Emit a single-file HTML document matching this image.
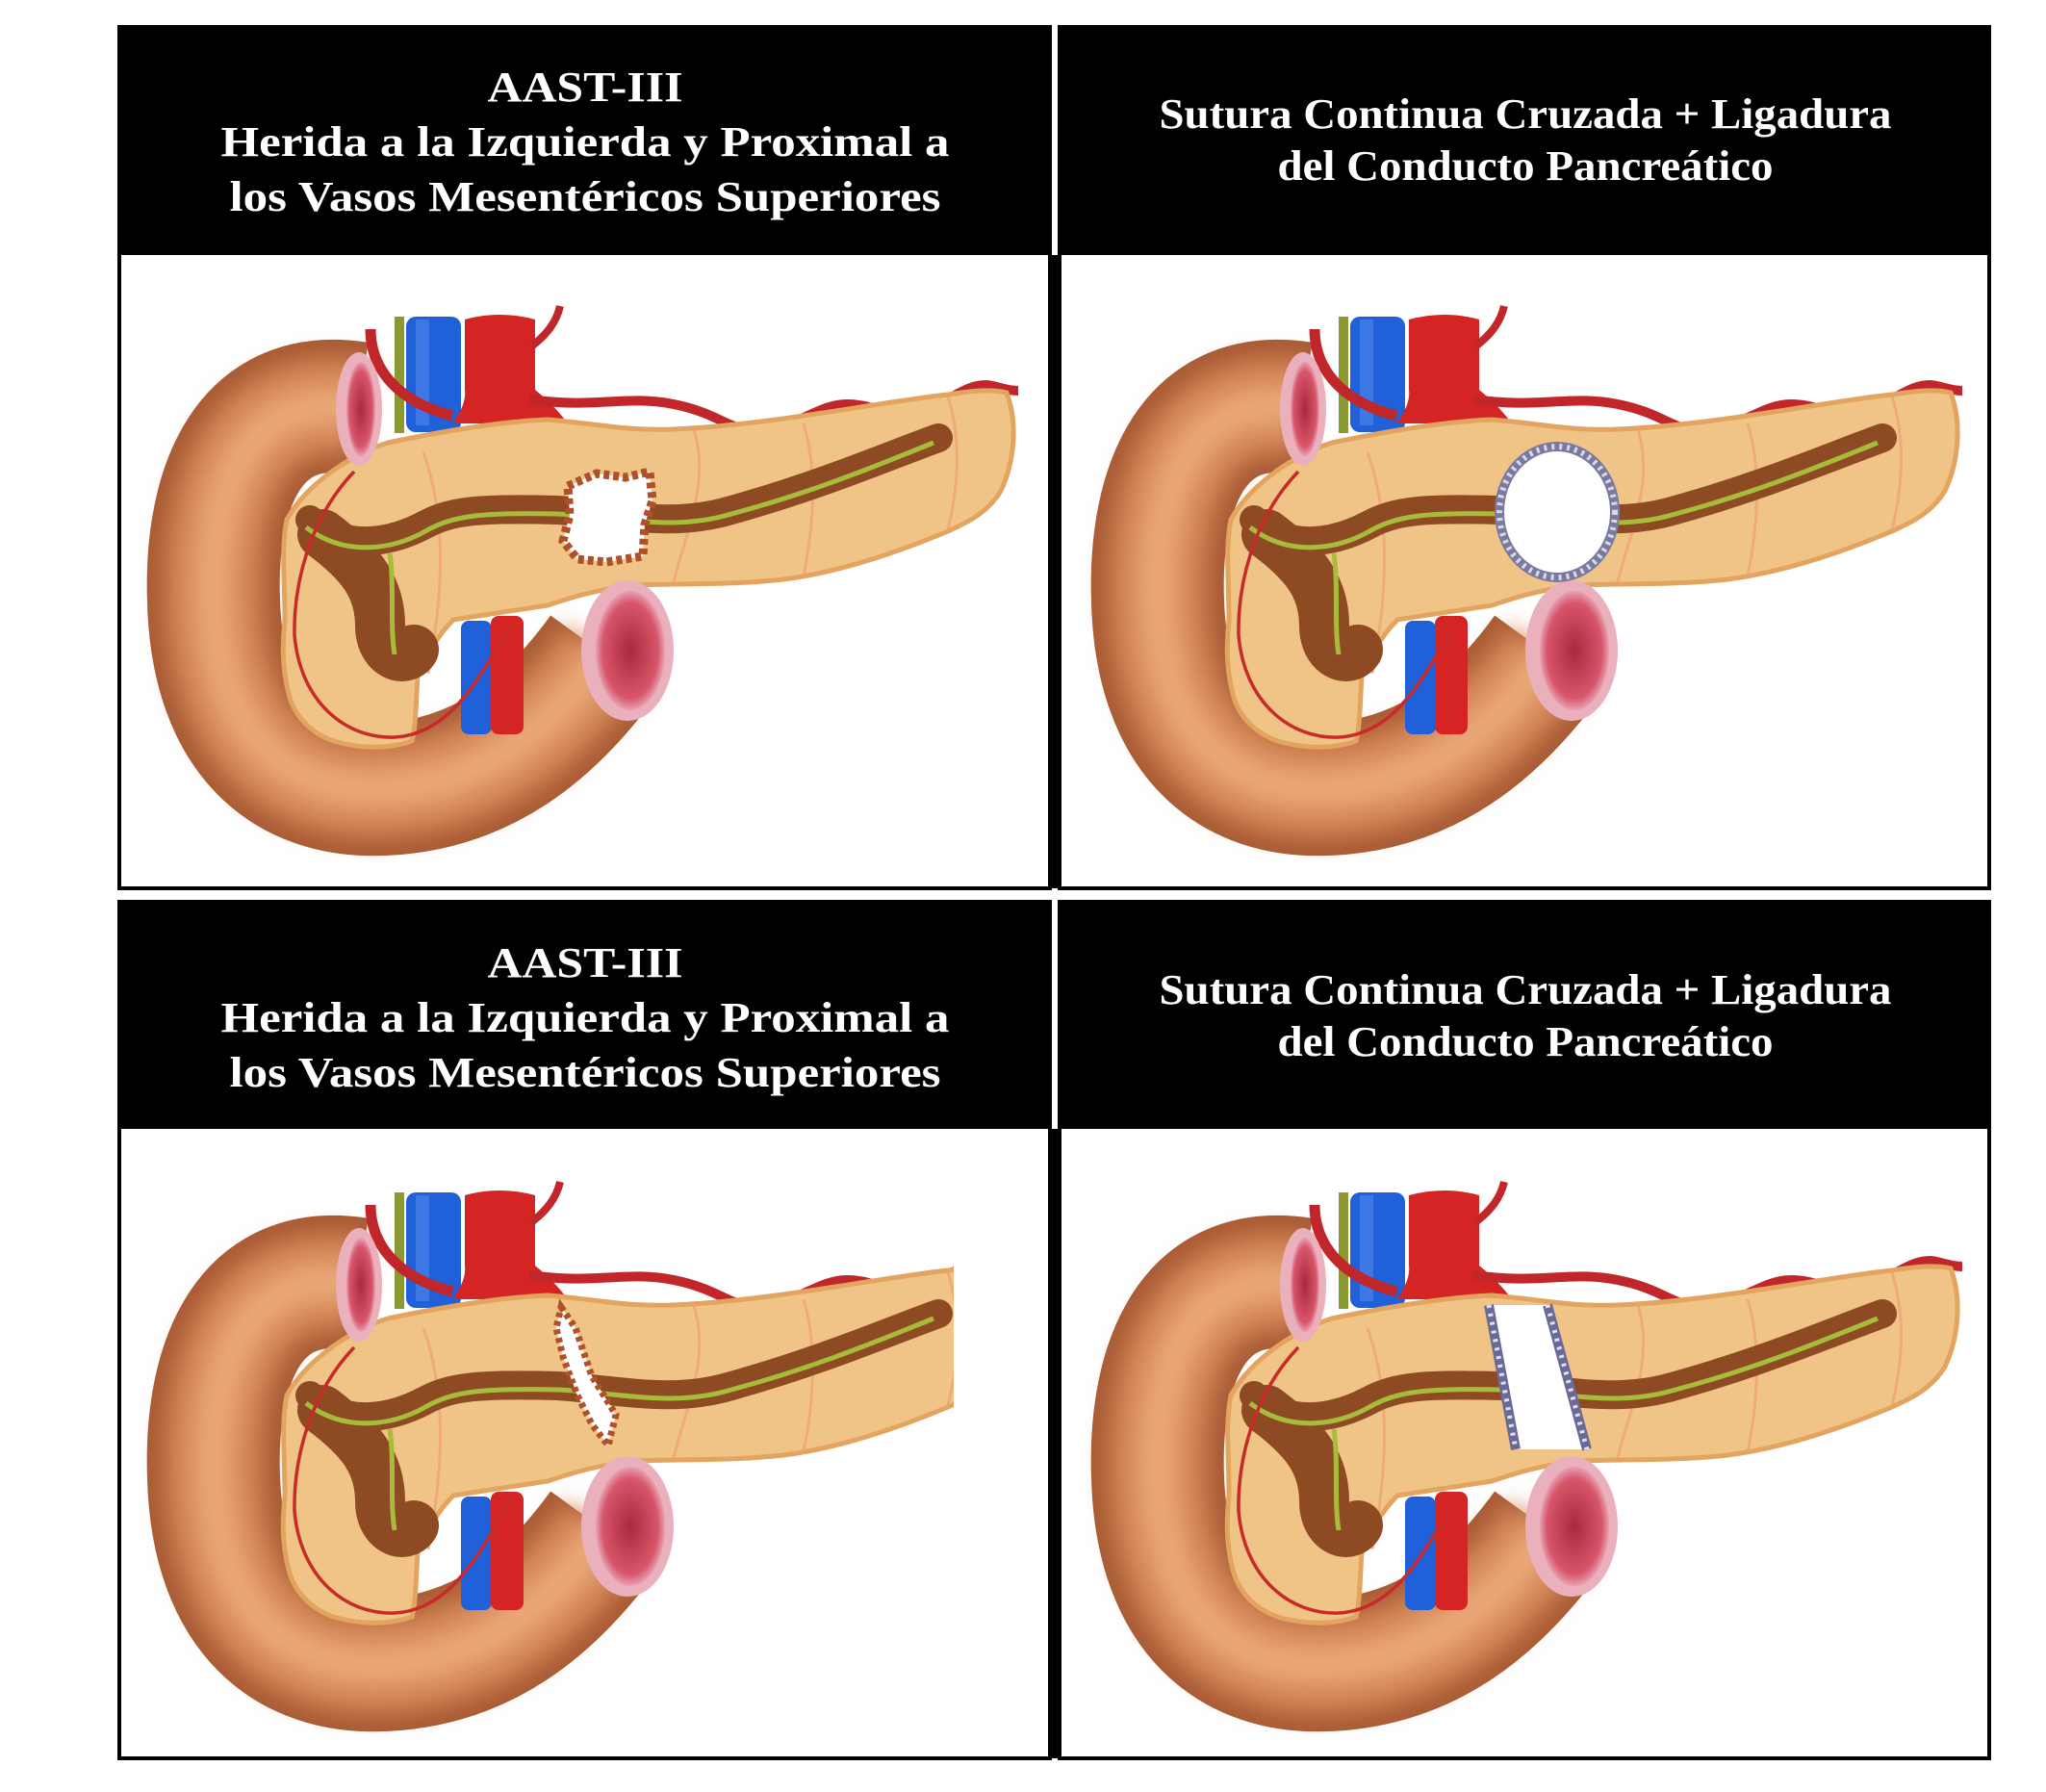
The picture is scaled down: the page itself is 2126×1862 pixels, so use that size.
<!DOCTYPE html>
<html><head><meta charset="utf-8"><style>
html,body{margin:0;padding:0;background:#fff;}
svg{display:block}
text{font-family:"Liberation Serif",serif;font-weight:bold;fill:#fff;font-size:44px}
</style></head><body>
<svg width="2126" height="1862" viewBox="0 0 2126 1862" xmlns="http://www.w3.org/2000/svg">
<defs>
<radialGradient id="open" cx="0.5" cy="0.5" r="0.5"><stop offset="0" stop-color="#a8283c"/><stop offset="0.8" stop-color="#d8566a"/><stop offset="1" stop-color="#e8a0b4"/></radialGradient>
<filter id="bl" x="-20%" y="-20%" width="140%" height="140%"><feGaussianBlur stdDeviation="12"/></filter>
<filter id="bl2"><feGaussianBlur stdDeviation="3"/></filter>
<clipPath id="cutBL"><rect x="0" y="0" width="991" height="2000"/></clipPath>
<g id="anat">
 <!-- duodenum -->
 <path id="dc" d="M372 424 C250 405 218 520 222 625 C226 765 300 825 400 820 C500 815 570 760 628 680" fill="none" stroke="#a85a34" stroke-width="138"/>
 <path d="M372 424 C250 405 218 520 222 625 C226 765 300 825 400 820 C500 815 570 760 628 680" fill="none" stroke="#d48656" stroke-width="100" filter="url(#bl)"/>
 <path d="M372 424 C250 405 218 520 222 625 C226 765 300 825 400 820 C500 815 570 760 628 680" fill="none" stroke="#eaa878" stroke-width="40" filter="url(#bl)"/>
 <!-- upper vessels -->
 <path d="M410 329 L420 329 L420 450 L410 450 Z" fill="#8a9a30"/>
 <rect x="422" y="329" width="57" height="120" rx="10" fill="#2060d8"/>
 <rect x="432" y="332" width="14" height="110" fill="#5a90f0" opacity="0.5"/>
 <path d="M483 332 Q520 322 556 332 L556 405 Q575 420 590 440 L470 440 Q485 420 483 405 Z" fill="#d42424"/>
 <path d="M385 342 C385 385 415 418 470 432" fill="none" stroke="#c0262a" stroke-width="11"/>
 <path d="M552 360 C568 348 578 335 582 318" fill="none" stroke="#c0262a" stroke-width="8"/>
 <path d="M550 415 C620 425 650 410 700 420 C750 430 760 450 790 447 C830 444 850 420 880 420 C910 420 920 435 950 428 C990 418 1000 400 1025 400 C1040 402 1045 406 1058 406" fill="none" stroke="#c0262a" stroke-width="10"/>
 <!-- lower vessels -->
 <rect x="479" y="645" width="32" height="118" rx="8" fill="#2060d8"/>
 <rect x="510" y="640" width="34" height="123" rx="8" fill="#d42424"/>
 <!-- pancreas -->
 <path d="M298 540 C320 500 370 470 403 460 C460 448 520 438 569 436 C620 440 650 448 700 446 C800 442 930 415 985 410 C1010 406 1030 404 1046 408 C1058 440 1054 480 1040 510 C1025 535 1000 545 985 552 C930 575 870 595 814 602 C760 608 710 606 660 608 C620 612 590 622 569 629 C530 635 495 640 471 644 C450 665 440 690 434 702 C432 735 432 755 428 770 C405 778 380 778 354 772 C325 765 306 745 300 721 C292 690 294 665 296 644 C296 600 292 570 298 540 Z" fill="#f0c486" stroke="#e2a45e" stroke-width="5"/>
 <path d="M440 470 C465 540 460 620 445 700 M720 444 C740 500 710 560 700 605 M835 440 C850 490 845 550 835 598 M985 412 C1000 460 995 510 985 550" fill="none" stroke="#f0a070" stroke-width="3" opacity="0.7"/>
 <!-- duct -->
 <path d="M322 540 C360 575 410 562 442 545 C470 530 500 528 580 530 C650 535 700 548 760 530 C850 505 920 475 975 455" fill="none" stroke="#8e4a22" stroke-width="30" stroke-linecap="round"/>
 <path d="M335 555 C375 585 395 610 395 650 C395 680 420 690 430 675" fill="none" stroke="#8e4a22" stroke-width="52" stroke-linecap="round"/>
 <path d="M318 548 C360 580 410 570 442 552 C470 536 500 532 580 534 C650 538 700 552 760 534 C850 510 920 480 970 460 M405 575 C410 610 405 650 410 680" fill="none" stroke="#a8bc3c" stroke-width="5"/>
 <!-- red thin artery -->
 <path d="M368 490 C320 540 305 610 306 660 C312 730 360 768 410 766 C470 763 500 700 530 650" fill="none" stroke="#c82a2a" stroke-width="3.5"/>
 <!-- openings -->
 <ellipse cx="373" cy="425" rx="24" ry="59" fill="#eab0bc"/>
 <ellipse cx="375" cy="425" rx="15" ry="49" fill="url(#open)"/>
 <ellipse cx="652" cy="676" rx="48" ry="73" fill="#eab0bc"/>
 <ellipse cx="655" cy="676" rx="36" ry="62" fill="url(#open)"/>
</g>
</defs>

<!-- frames -->
<rect x="124" y="28" width="967" height="895" fill="#fff" stroke="#000" stroke-width="4"/>
<rect x="1101" y="28" width="966" height="895" fill="#fff" stroke="#000" stroke-width="4"/>
<rect x="124" y="937" width="967" height="890" fill="#fff" stroke="#000" stroke-width="4"/>
<rect x="1101" y="937" width="966" height="890" fill="#fff" stroke="#000" stroke-width="4"/>
<rect x="1091" y="265" width="10" height="658" fill="#000"/>
<rect x="1091" y="1173" width="10" height="654" fill="#000"/>

<!-- TL -->
<use href="#anat"/>
<path d="M590 505 L620 492 L650 496 L675 490 L678 520 L670 545 L668 578 L630 584 L600 581 L585 562 L592 535 Z" fill="#fff" stroke="#b0502a" stroke-width="9" stroke-dasharray="6 4"/>

<!-- TR -->
<g transform="translate(981,0)">
<use href="#anat"/>
<ellipse cx="637" cy="532" rx="60" ry="68" fill="#fff" stroke="#7a7aa0" stroke-width="10"/>
<ellipse cx="637" cy="532" rx="60" ry="68" fill="none" stroke="#d8d8e8" stroke-width="6" stroke-dasharray="3 5"/>
</g>

<!-- BL -->
<g transform="translate(0,910)">
<g clip-path="url(#cutBL)"><use href="#anat"/></g>
<path d="M583 448 L598 470 L615 520 L640 560 L632 592 L615 570 L600 540 L585 500 L578 470 Z" fill="#fff" stroke="#b0502a" stroke-width="7" stroke-dasharray="5 4"/>
</g>

<!-- BR -->
<g transform="translate(981,910)">
<use href="#anat"/>
<path d="M566 446 L627 446 L668 596 L594 596 Z" fill="#fff"/>
<path d="M566 446 L594 596 M627 446 L668 596" stroke="#6a6a98" stroke-width="10" fill="none"/>
<path d="M566 446 L594 596 M627 446 L668 596" stroke="#e0e0ee" stroke-width="5" fill="none" stroke-dasharray="3 6"/>
</g>

<!-- headers -->
<rect x="122" y="26" width="969" height="239" fill="#000"/>
<rect x="1101" y="26" width="968" height="239" fill="#000"/>
<rect x="122" y="935" width="969" height="238" fill="#000"/>
<rect x="1101" y="935" width="968" height="238" fill="#000"/>
<g text-anchor="middle">
<text x="608" y="105" textLength="203" lengthAdjust="spacingAndGlyphs">AAST-III</text>
<text x="608" y="162" textLength="757" lengthAdjust="spacingAndGlyphs">Herida a la Izquierda y Proximal a</text>
<text x="608" y="219" textLength="739" lengthAdjust="spacingAndGlyphs">los Vasos Mesentéricos Superiores</text>
<text x="1585" y="133" textLength="761" lengthAdjust="spacingAndGlyphs">Sutura Continua Cruzada + Ligadura</text>
<text x="1585" y="187" textLength="515" lengthAdjust="spacingAndGlyphs">del Conducto Pancreático</text>
<text x="608" y="1015" textLength="203" lengthAdjust="spacingAndGlyphs">AAST-III</text>
<text x="608" y="1072" textLength="757" lengthAdjust="spacingAndGlyphs">Herida a la Izquierda y Proximal a</text>
<text x="608" y="1129" textLength="739" lengthAdjust="spacingAndGlyphs">los Vasos Mesentéricos Superiores</text>
<text x="1585" y="1043" textLength="761" lengthAdjust="spacingAndGlyphs">Sutura Continua Cruzada + Ligadura</text>
<text x="1585" y="1097" textLength="515" lengthAdjust="spacingAndGlyphs">del Conducto Pancreático</text>
</g>
</svg>
</body></html>
